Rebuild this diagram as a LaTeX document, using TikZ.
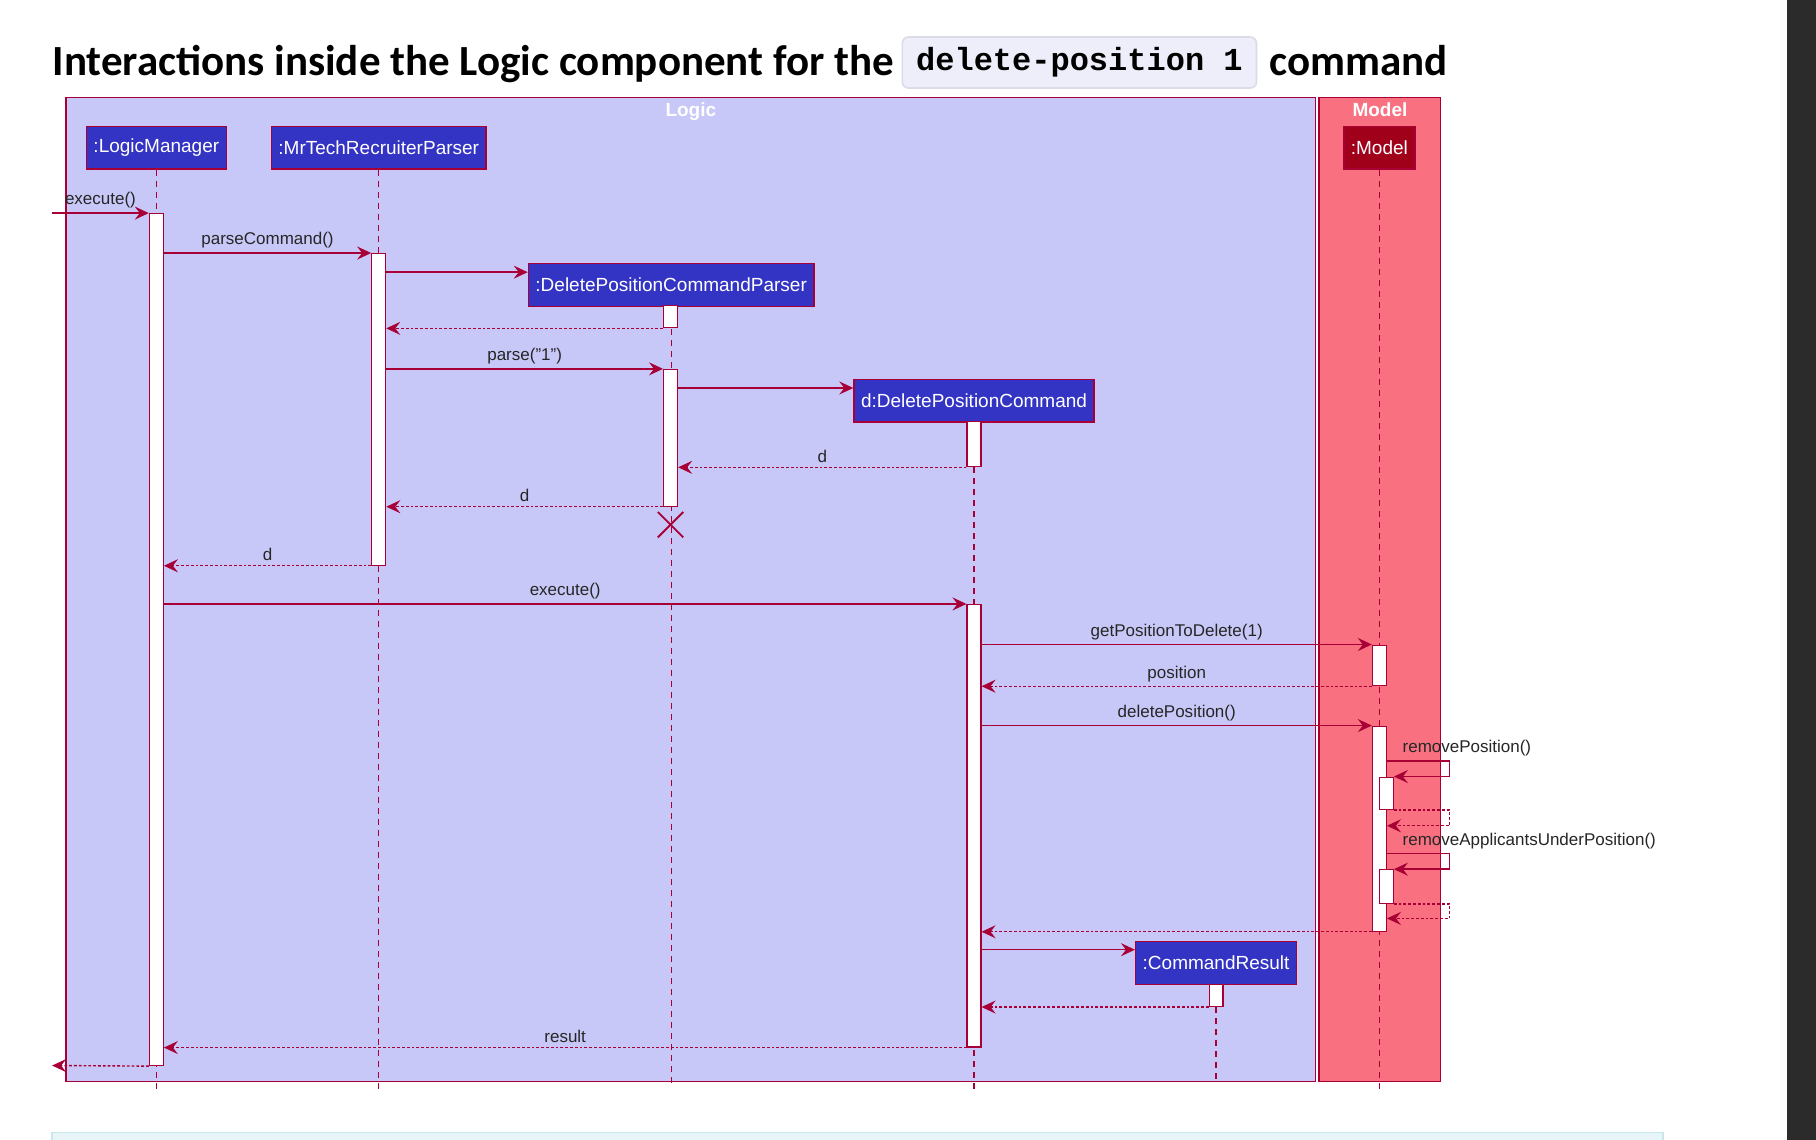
\documentclass[tikz,border=0pt]{standalone}
\usepackage{fontspec}
\setmainfont{Liberation Sans}
\newfontfamily\headfont{Carlito}
\newfontfamily\codefont{Liberation Mono}
\usetikzlibrary{arrows.meta,fit,positioning}
\definecolor{umlred}{HTML}{A80036}
\definecolor{logicbg}{HTML}{C8C8F8}
\definecolor{modelbg}{HTML}{F97181}
\definecolor{partblue}{HTML}{3333C4}
\definecolor{partdark}{HTML}{A0001A}
\definecolor{codebg}{HTML}{EEEEFA}
\definecolor{codeline}{HTML}{DCDCE8}
\definecolor{stripbg}{HTML}{E8F5F8}
\definecolor{stripline}{HTML}{C8E6EC}
\definecolor{scrollgray}{HTML}{2B2B2B}
\begin{document}
\begin{tikzpicture}[x=0.579pt,y=-0.579pt,
  participant/.style={draw=umlred,fill=partblue,text=white,line width=0.7pt,font=\fontsize{9.5}{11}\selectfont,minimum height=21.4pt,inner xsep=3.5pt},
  modelpart/.style={participant,fill=partdark},
  actbar/.style={draw=umlred,fill=white,line width=0.6pt,inner sep=0pt},
  lifeline/.style={umlred,line width=0.6pt,dash pattern=on 3pt off 2.5pt},
  msg/.style={umlred,line width=0.7pt,-{Stealth[length=7pt,width=6.5pt,inset=2.5pt]}},
  ret/.style={msg,dash pattern=on 1.4pt off 1pt},
  lbl/.style={above,text=black!85,font=\fontsize{8.5}{10}\selectfont,inner sep=2pt},
  logicframe/.style={draw=umlred,fill=logicbg,line width=0.7pt,inner sep=0pt},
  modelframe/.style={draw=umlred,fill=modelbg,line width=0.7pt,inner sep=0pt},
  frametitle/.style={text=white,font=\bfseries\fontsize{9.5}{11}\selectfont,inner sep=3pt},
  headtext/.style={font=\headfont\bfseries\fontsize{21.5}{26}\selectfont,inner sep=0pt},
  codebox/.style={draw=codeline,fill=codebg,rounded corners=3pt,line width=0.8pt,minimum width=177pt,minimum height=25.5pt,font=\codefont\bfseries\fontsize{16}{18}\selectfont}]

\useasboundingbox[fill=white] (0,0) rectangle (1568,984);

\node[headtext,anchor=base west] (heading) at (45,65) {Interactions inside the Logic component for the};
\node[codebox] (cmdcode) at (932,54) {delete-position 1};
\node[headtext,anchor=base west] (heading2) at (1096,65) {command};

\node[logicframe,fit={(57,84) (1136,934)}] (logicbox) {};
\node[modelframe,fit={(1139,84) (1244,934)}] (modelbox) {};
\node[frametitle,anchor=north] (logictitle) at (logicbox.north) {Logic};
\node[frametitle,anchor=north] (modeltitle) at (modelbox.north) {Model};

\node[participant] (lm) at (135,127.5) {:LogicManager};
\node[participant] (mtp) at (327,127.5) {:MrTechRecruiterParser};
\node[participant] (dpcp) at (579.5,246) {:DeletePositionCommandParser};
\node[participant] (dpc) at (841,346) {d:DeletePositionCommand};
\node[participant] (cr) at (1050,831.5) {:CommandResult};
\node[modelpart] (mdl) at (1191,127.5) {:Model};

\draw[lifeline] (lm.south) -- (lm.south |- 0,940);
\draw[lifeline] (mtp.south) -- (mtp.south |- 0,940);
\draw[lifeline] (dpcp.south) -- (dpcp.south |- 0,936);
\draw[lifeline] (dpc.south) -- (dpc.south |- 0,940);
\draw[lifeline] (cr.south) -- (cr.south |- 0,936);
\draw[lifeline] (mdl.south) -- (mdl.south |- 0,940);

\node[actbar,fit={(129,184) (141,920)}] (lmA) {};
\node[actbar,fit={(321,219) (333,488)}] (mtpA) {};
\node[actbar,fit={(573,264) (585,283)}] (dpcpA) {};
\node[actbar,fit={(573,319) (585,437)}] (dpcpB) {};
\node[actbar,fit={(835,364) (847,403)}] (dpcA) {};
\node[actbar,fit={(835,522) (847,904)}] (dpcB) {};
\node[actbar,fit={(1185,557) (1197,592)}] (mdlA) {};
\node[actbar,fit={(1185,627) (1197,804)}] (mdlB) {};
\node[actbar,fit={(1191,671) (1203,699)}] (mdlC) {};
\node[actbar,fit={(1191,751) (1203,780)}] (mdlD) {};
\node[actbar,fit={(1044,850) (1056,869)}] (crA) {};

\coordinate (caller) at (45,184);
\coordinate (exit) at (45,920);
\coordinate (kill) at (579,453);

\draw[msg] (caller) -- node[lbl] {execute()} (lmA.west |- caller);
\draw[msg] (lmA.east |- mtpA.north west) -- node[lbl] {parseCommand()} (mtpA.north west);
\draw[msg] (mtpA.east |- 0,235) -- (dpcp.west |- 0,235);
\draw[ret] (dpcpA.south west) -- (mtpA.east |- dpcpA.south west);
\draw[msg] (mtpA.east |- dpcpB.north west) -- node[lbl] {parse("1")} (dpcpB.north west);
\draw[msg] (dpcpB.east |- 0,335) -- (dpc.west |- 0,335);
\draw[ret] (dpcA.south west) -- node[lbl] {d} (dpcpB.east |- dpcA.south west);
\draw[ret] (dpcpB.south west) -- node[lbl] {d} (mtpA.east |- dpcpB.south west);
\draw[umlred,line width=0.9pt] (kill) +(-11,-11) -- +(11,11) (kill) +(-11,11) -- +(11,-11);
\draw[ret] (mtpA.south west) -- node[lbl] {d} (lmA.east |- mtpA.south west);
\draw[msg] (lmA.east |- dpcB.north west) -- node[lbl] {execute()} (dpcB.north west);
\draw[msg] (dpcB.east |- mdlA.north west) -- node[lbl] {getPositionToDelete(1)} (mdlA.north west);
\draw[ret] (mdlA.south west) -- node[lbl] {position} (dpcB.east |- mdlA.south west);
\draw[msg] (dpcB.east |- mdlB.north west) -- node[lbl] {deletePosition()} (mdlB.north west);
\draw[msg] (mdlB.east |- 0,657) node[lbl,anchor=south west,xshift=5.5pt] {removePosition()} -- ++(54,0) |- (mdlC.north east);
\draw[ret] (mdlC.south east) -- ++(48,0) |- (mdlB.east |- 0,713);
\draw[msg] (mdlB.east |- 0,737) node[lbl,anchor=south west,xshift=5.5pt] {removeApplicantsUnderPosition()} -- ++(54,0) |- (mdlD.north east);
\draw[ret] (mdlD.south east) -- ++(48,0) |- (mdlB.east |- 0,793);
\draw[ret] (mdlB.south west) -- (dpcB.east |- mdlB.south west);
\draw[msg] (dpcB.east |- 0,820) -- (cr.west |- 0,820);
\draw[ret] (crA.south west) -- (dpcB.east |- crA.south west);
\draw[ret] (dpcB.south west) -- node[lbl] {result} (lmA.east |- dpcB.south west);
\draw[ret] (lmA.south west) -- (exit);

\filldraw[fill=stripbg,draw=stripline,line width=0.8pt] (45,978) rectangle (1436,990);
\fill[scrollgray] (1543,0) rectangle (1568,984);
\end{tikzpicture}
\end{document}
